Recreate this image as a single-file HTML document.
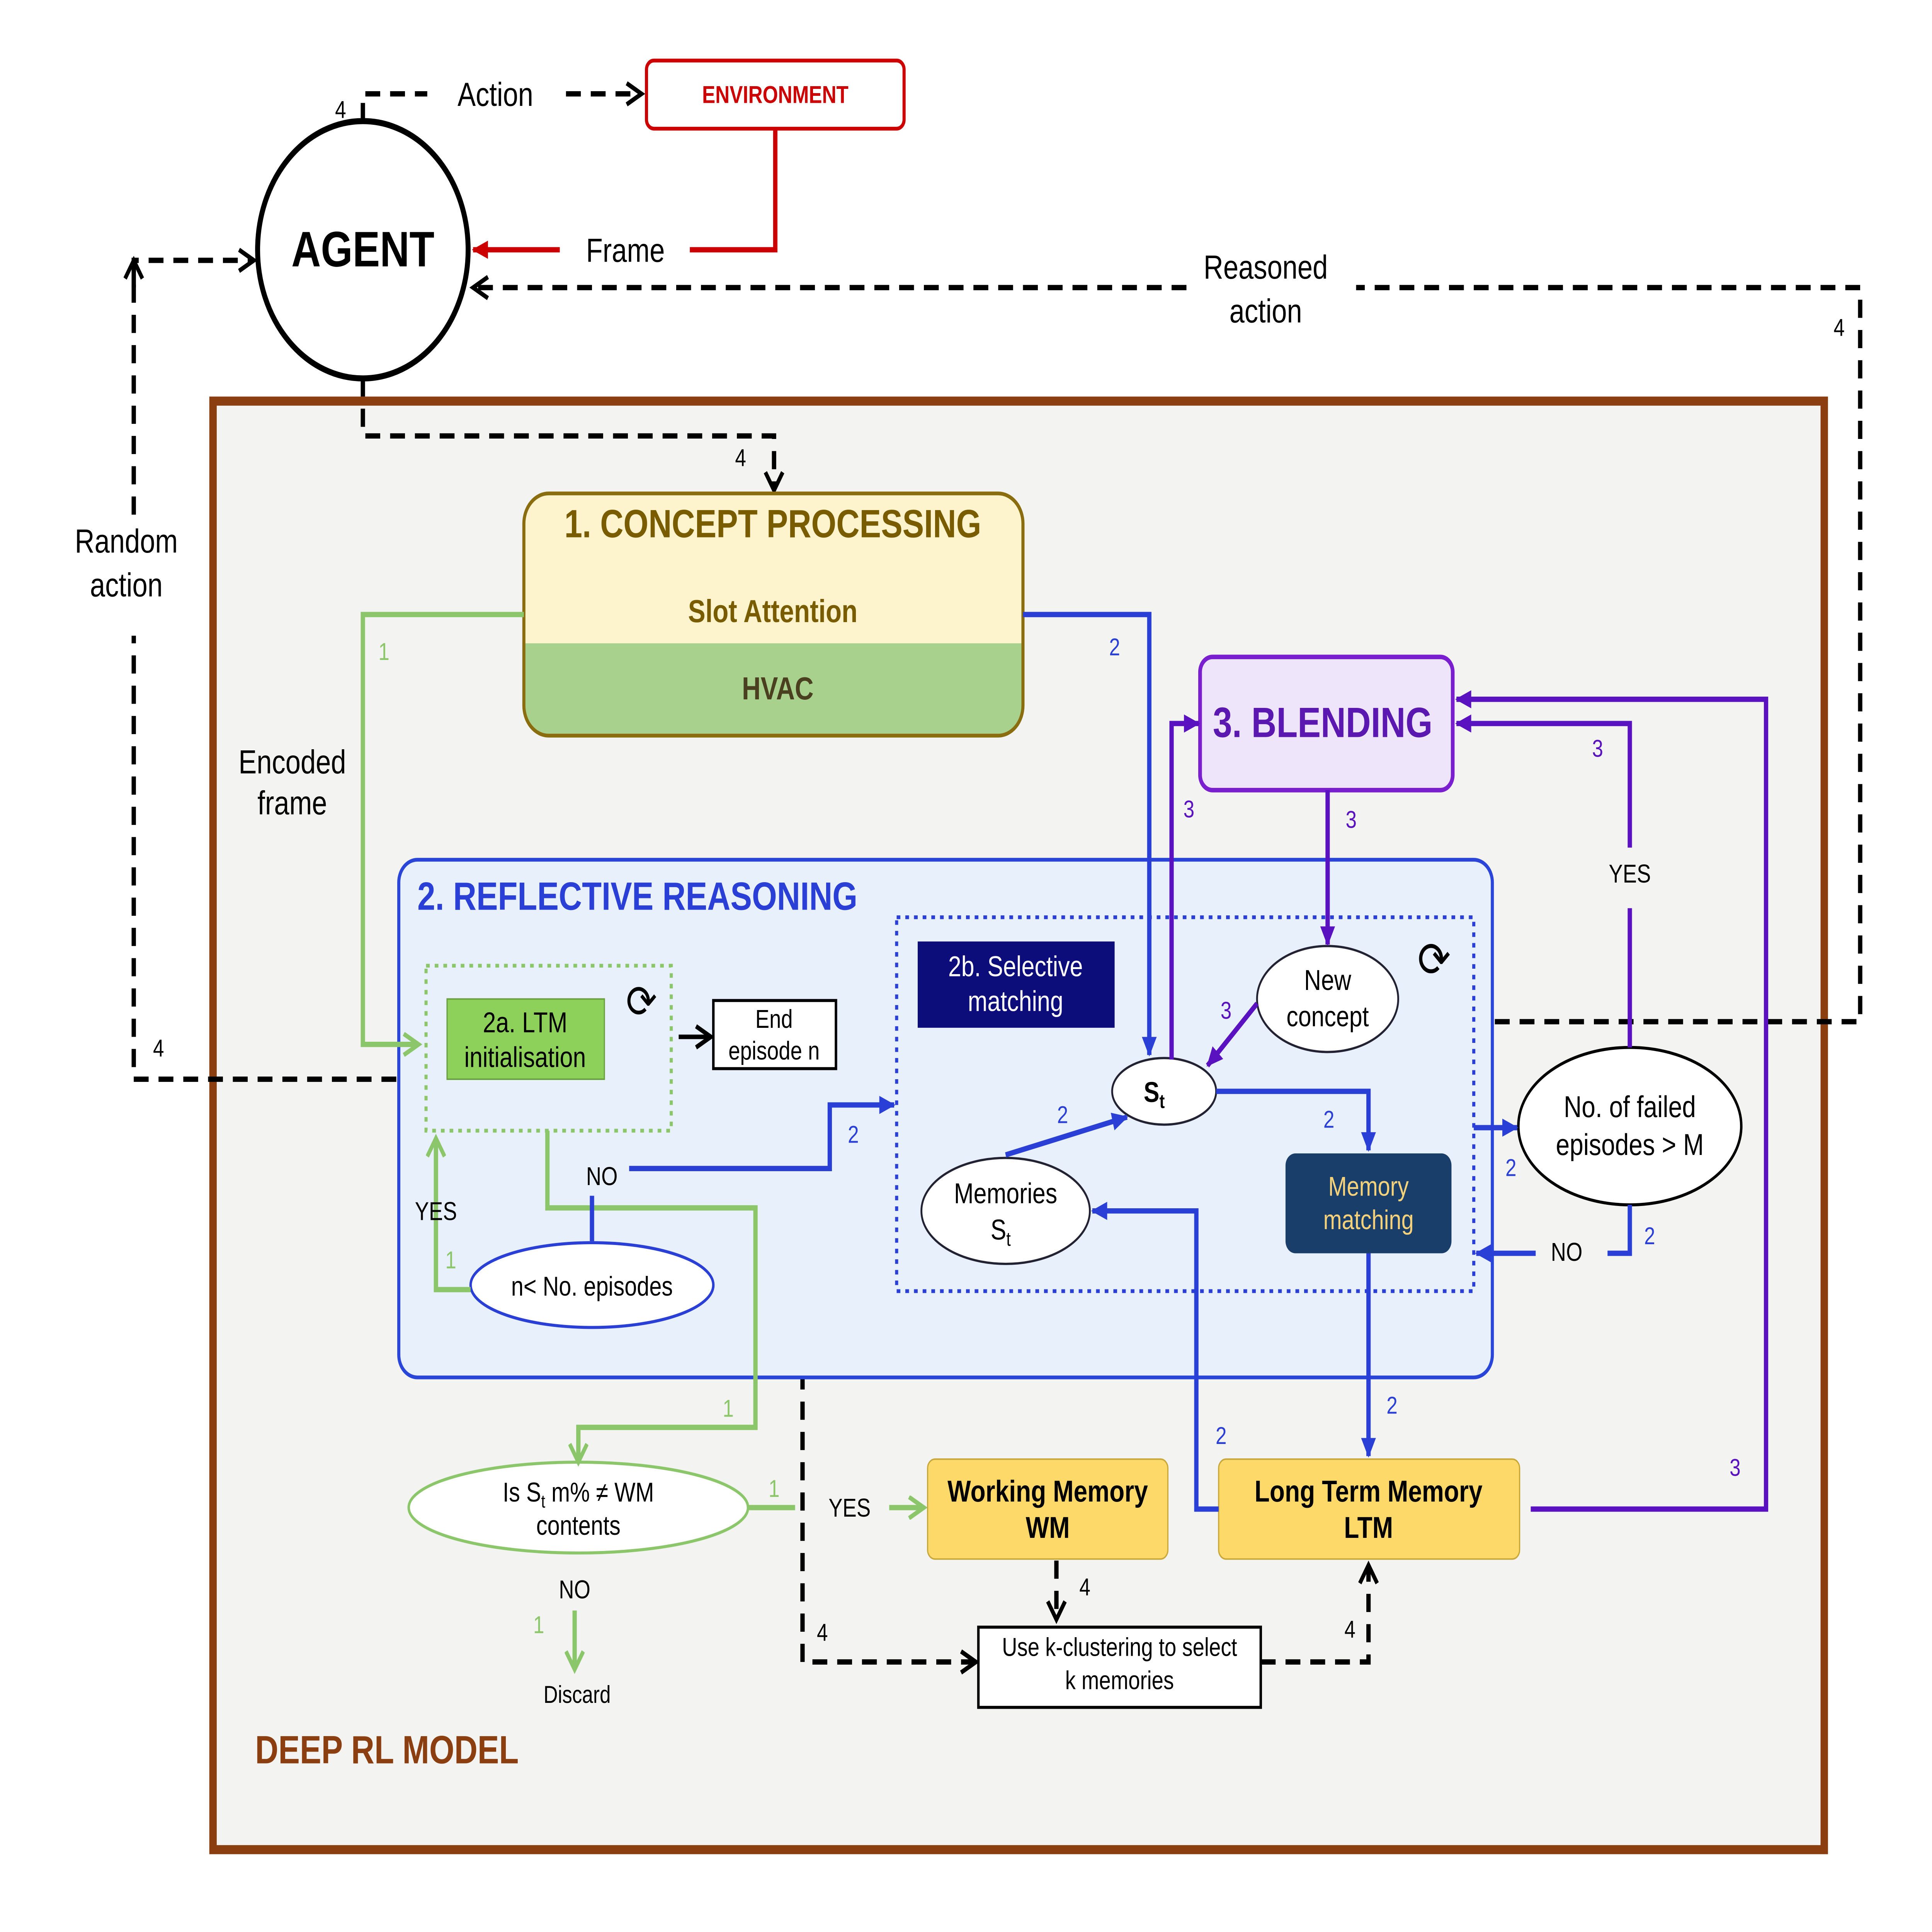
<!DOCTYPE html>
<html><head><meta charset="utf-8"><style>
html,body{margin:0;padding:0;background:#fff;width:100%;height:100%;overflow:hidden;}
svg{display:block;position:fixed;left:0;top:0;width:100vw;height:100vh;}
text{font-family:"Liberation Sans",sans-serif;}
</style></head><body>
<svg viewBox="0 0 1560 1276.4" preserveAspectRatio="none" xmlns="http://www.w3.org/2000/svg">
<defs>
<marker id="ab" markerWidth="14" markerHeight="14" refX="12" refY="7" orient="auto" markerUnits="userSpaceOnUse"><path d="M0,1 L13,7 L0,13 z" fill="#2a3fd6"/></marker>
<marker id="ap" markerWidth="14" markerHeight="14" refX="12" refY="7" orient="auto" markerUnits="userSpaceOnUse"><path d="M0,1 L13,7 L0,13 z" fill="#5a12c0"/></marker>
<marker id="ag" markerWidth="16" markerHeight="16" refX="13" refY="8" orient="auto" markerUnits="userSpaceOnUse"><path d="M1,1 L13,8 L1,15" fill="none" stroke="#8cc66a" stroke-width="3"/></marker>
<marker id="ar" markerWidth="14" markerHeight="14" refX="12" refY="7" orient="auto" markerUnits="userSpaceOnUse"><path d="M0,1 L13,7 L0,13 z" fill="#cc0000"/></marker>
<marker id="ad" markerWidth="18" markerHeight="18" refX="14" refY="9" orient="auto" markerUnits="userSpaceOnUse"><path d="M2,2 L14,9 L2,16" fill="none" stroke="#000" stroke-width="3"/></marker>
</defs>
<rect width="1560" height="1277" fill="#fff"/>
<rect x="172" y="265" width="1301" height="957" fill="#f3f3f1" stroke="#8b3e10" stroke-width="6"/>
<text x="206" y="1165" font-size="26" font-weight="bold" fill="#8b3e10">DEEP RL MODEL</text>

<circle cx="293" cy="165" r="85" fill="#fff" stroke="#000" stroke-width="4"/>
<text x="293" y="176" font-size="33" font-weight="bold" text-anchor="middle">AGENT</text>
<rect x="522" y="40" width="208" height="45" rx="6" fill="#fff" stroke="#cc0000" stroke-width="2.5"/>
<text x="626" y="68" font-size="16" font-weight="bold" fill="#cc0000" text-anchor="middle">ENVIRONMENT</text>
<polyline points="626,85 626,165 557,165" fill="none" stroke="#cc0000" stroke-width="3.5"/>
<line x1="452" y1="165" x2="382" y2="165" stroke="#cc0000" stroke-width="3.5" marker-end="url(#ar)"/>
<text x="505" y="173" font-size="22" text-anchor="middle">Frame</text>

<g fill="none" stroke="#000" stroke-width="3.5" stroke-dasharray="12,8">
<polyline points="293,80 293,62 345,62"/>
<line x1="457" y1="62" x2="518" y2="62" marker-end="url(#ad)"/>
<polyline points="1207,675 1502,675 1502,190 1095,190"/>
<line x1="958" y1="190" x2="382" y2="190" marker-end="url(#ad)"/>
<polyline points="320,713 108,713 108,420"/>
<polyline points="108,340 108,172 205,172" marker-end="url(#ad)"/>
<polyline points="293,250 293,288 625,288 625,324" marker-end="url(#ad)"/>
<polyline points="626,706 626,849 582,849" marker-end="url(#ad)"/>
<polyline points="648,706 648,1098 788,1098" marker-end="url(#ad)"/>
<line x1="853" y1="1031" x2="853" y2="1070" marker-end="url(#ad)"/>
<polyline points="1018,1098 1105,1098 1105,1034" marker-end="url(#ad)"/>
</g>
<line x1="108" y1="190" x2="108" y2="172" stroke="#000" stroke-width="3.5" marker-end="url(#ad)"/>
<text x="400" y="70" font-size="22" text-anchor="middle">Action</text>
<text x="275" y="78" font-size="16" text-anchor="middle">4</text>
<text x="1022" y="184" font-size="22" text-anchor="middle">Reasoned</text>
<text x="1022" y="213" font-size="22" text-anchor="middle">action</text>
<text x="1485" y="222" font-size="16" text-anchor="middle">4</text>
<text x="102" y="365" font-size="22" text-anchor="middle">Random</text>
<text x="102" y="394" font-size="22" text-anchor="middle">action</text>
<text x="128" y="698" font-size="16" text-anchor="middle">4</text>
<text x="598" y="308" font-size="16" text-anchor="middle">4</text>
<text x="636" y="849" font-size="16" text-anchor="middle">1</text>
<text x="664" y="1084" font-size="16" text-anchor="middle">4</text>
<text x="876" y="1054" font-size="16" text-anchor="middle">4</text>
<text x="1090" y="1082" font-size="16" text-anchor="middle">4</text>

<path d="M443,326 H806 Q826,326 826,346 V425 H423 V346 Q423,326 443,326 Z" fill="#fdf3cc"/>
<path d="M423,425 H826 V466 Q826,486 806,486 H443 Q423,486 423,466 Z" fill="#a9d18e"/>
<rect x="423" y="326" width="403" height="160" rx="20" fill="none" stroke="#8a6d0f" stroke-width="2.5"/>
<text x="624" y="355" font-size="26" font-weight="bold" fill="#7a5c00" text-anchor="middle">1.  CONCEPT PROCESSING</text>
<text x="624" y="411" font-size="21" font-weight="bold" fill="#7a5c00" text-anchor="middle">Slot Attention</text>
<text x="628" y="462" font-size="21" font-weight="bold" fill="#4a4020" text-anchor="middle">HVAC</text>
<text x="236" y="511" font-size="22" text-anchor="middle">Encoded</text>
<text x="236" y="538" font-size="22" text-anchor="middle">frame</text>

<rect x="969" y="434" width="204" height="88" rx="10" fill="#efe5fb" stroke="#7a1fd0" stroke-width="3"/>
<text x="1068" y="487" font-size="28" font-weight="bold" fill="#5a18b0" text-anchor="middle">3. BLENDING</text>

<rect x="322" y="568" width="883" height="342" rx="15" fill="#e8f0fb" stroke="#2a46d8" stroke-width="2.5"/>
<text x="337" y="601" font-size="26" font-weight="bold" fill="#2a3fd6">2. REFLECTIVE REASONING</text>
<rect x="344" y="638" width="198" height="109" fill="none" stroke="#8cc66a" stroke-width="2.5" stroke-dasharray="3,4"/>
<rect x="361" y="660" width="127" height="53" fill="#8dd05a" stroke="#6aa040" stroke-width="1"/>
<text x="424" y="682" font-size="19" text-anchor="middle">2a. LTM</text>
<text x="424" y="705" font-size="19" text-anchor="middle">initialisation</text>
<text x="518" y="672" font-size="30" text-anchor="middle">⟳</text>
<rect x="576" y="661" width="99" height="45" fill="#fff" stroke="#000" stroke-width="2"/>
<text x="625" y="679" font-size="17" text-anchor="middle">End</text>
<text x="625" y="700" font-size="17" text-anchor="middle">episode n</text>
<line x1="548" y1="685" x2="574" y2="685" stroke="#000" stroke-width="3" marker-end="url(#ad)"/>

<rect x="724" y="606" width="466" height="247" fill="none" stroke="#2a3fd6" stroke-width="2.5" stroke-dasharray="3,4"/>
<rect x="741" y="622" width="159" height="57" fill="#0c0c7a"/>
<text x="820" y="645" font-size="19" fill="#fff" text-anchor="middle">2b. Selective</text>
<text x="820" y="668" font-size="19" fill="#fff" text-anchor="middle">matching</text>
<text x="1158" y="645" font-size="32" text-anchor="middle">⟳</text>
<ellipse cx="1072" cy="660" rx="57" ry="35" fill="#fff" stroke="#223" stroke-width="1.5"/>
<text x="1072" y="654" font-size="19" text-anchor="middle">New</text>
<text x="1072" y="678" font-size="19" text-anchor="middle">concept</text>
<ellipse cx="940" cy="721" rx="42" ry="22" fill="#fff" stroke="#223" stroke-width="1.5"/>
<text x="932" y="728" font-size="19" font-weight="bold" text-anchor="middle">S<tspan font-size="13" dy="4">t</tspan></text>
<ellipse cx="812" cy="800" rx="68" ry="35" fill="#fff" stroke="#223" stroke-width="1.5"/>
<text x="812" y="795" font-size="19" text-anchor="middle">Memories</text>
<text x="808" y="819" font-size="19" text-anchor="middle">S<tspan font-size="13" dy="4">t</tspan></text>
<rect x="1038" y="762" width="134" height="66" rx="8" fill="#1a3e6a"/>
<text x="1105" y="790" font-size="18" fill="#f5d27a" text-anchor="middle">Memory</text>
<text x="1105" y="812" font-size="18" fill="#f5d27a" text-anchor="middle">matching</text>
<ellipse cx="478" cy="849" rx="98" ry="28" fill="#fff" stroke="#2a3fd6" stroke-width="2"/>
<text x="478" y="856" font-size="18" text-anchor="middle">n&lt; No. episodes</text>

<ellipse cx="1316" cy="744" rx="90" ry="52" fill="#fff" stroke="#000" stroke-width="2"/>
<text x="1316" y="738" font-size="20" text-anchor="middle">No. of failed</text>
<text x="1316" y="763" font-size="20" text-anchor="middle">episodes &gt; M</text>

<ellipse cx="467" cy="996" rx="137" ry="30" fill="#fff" stroke="#8cc66a" stroke-width="2"/>
<text x="467" y="992" font-size="18" text-anchor="middle">Is S<tspan font-size="12" dy="4">t</tspan><tspan dy="-4"> m% ≠ WM</tspan></text>
<text x="467" y="1014" font-size="18" text-anchor="middle">contents</text>
<rect x="749" y="964" width="194" height="66" rx="6" fill="#fdd96a" stroke="#c9a83a" stroke-width="1"/>
<text x="846" y="992" font-size="20" font-weight="bold" text-anchor="middle">Working Memory</text>
<text x="846" y="1016" font-size="20" font-weight="bold" text-anchor="middle">WM</text>
<rect x="984" y="964" width="243" height="66" rx="6" fill="#fdd96a" stroke="#c9a83a" stroke-width="1"/>
<text x="1105" y="992" font-size="20" font-weight="bold" text-anchor="middle">Long Term Memory</text>
<text x="1105" y="1016" font-size="20" font-weight="bold" text-anchor="middle">LTM</text>
<rect x="790" y="1075" width="228" height="53" fill="#fff" stroke="#000" stroke-width="2"/>
<text x="904" y="1094" font-size="17" text-anchor="middle">Use k-clustering to select</text>
<text x="904" y="1116" font-size="17" text-anchor="middle">k memories</text>
<text x="466" y="1125" font-size="16" text-anchor="middle">Discard</text>

<g fill="none" stroke="#8cc66a" stroke-width="3.5">
<polyline points="423,406 293,406 293,690 338,690" marker-end="url(#ag)"/>
<polyline points="442,747 442,798 610,798 610,943 467,943 467,966" marker-end="url(#ag)"/>
<polyline points="380,852 352,852 352,752" marker-end="url(#ag)"/>
<line x1="604" y1="996" x2="642" y2="996"/>
<line x1="718" y1="996" x2="746" y2="996" marker-end="url(#ag)"/>
<line x1="464" y1="1064" x2="464" y2="1103" marker-end="url(#ag)"/>
</g>
<g font-size="16" fill="#8cc66a" text-anchor="middle">
<text x="310" y="436">1</text><text x="588" y="936">1</text><text x="364" y="838">1</text>
<text x="625" y="989">1</text><text x="435" y="1079">1</text></g>
<text x="352" y="806" font-size="17" text-anchor="middle">YES</text>
<text x="686" y="1002" font-size="17" text-anchor="middle">YES</text>
<text x="464" y="1056" font-size="17" text-anchor="middle">NO</text>

<g fill="none" stroke="#2a3fd6" stroke-width="3.5">
<polyline points="826,406 928,406 928,697" marker-end="url(#ab)"/>
<line x1="478" y1="820" x2="478" y2="790"/>
<polyline points="508,772 670,772 670,730 722,730" marker-end="url(#ab)"/>
<polyline points="982,721 1105,721 1105,760" marker-end="url(#ab)"/>
<line x1="812" y1="763" x2="910" y2="738" marker-end="url(#ab)"/>
<line x1="1105" y1="828" x2="1105" y2="962" marker-end="url(#ab)"/>
<polyline points="984,997 966,997 966,800 882,800" marker-end="url(#ab)"/>
<line x1="1190" y1="745" x2="1225" y2="745" marker-end="url(#ab)"/>
<polyline points="1316,796 1316,828 1298,828"/>
<line x1="1240" y1="828" x2="1192" y2="828" marker-end="url(#ab)"/>
</g>
<g font-size="16" fill="#2a3fd6" text-anchor="middle">
<text x="900" y="433">2</text><text x="689" y="755">2</text><text x="1073" y="745">2</text>
<text x="858" y="742">2</text><text x="1124" y="934">2</text><text x="986" y="954">2</text>
<text x="1220" y="777">2</text><text x="1332" y="822">2</text></g>
<text x="486" y="783" font-size="17" text-anchor="middle">NO</text>
<text x="1265" y="833" font-size="17" text-anchor="middle">NO</text>

<g fill="none" stroke="#5a12c0" stroke-width="3.5">
<line x1="1072" y1="522" x2="1072" y2="624" marker-end="url(#ap)"/>
<line x1="1015" y1="663" x2="975" y2="704" marker-end="url(#ap)"/>
<polyline points="946,700 946,478 968,478" marker-end="url(#ap)"/>
<polyline points="1316,692 1316,600"/>
<polyline points="1316,560 1316,478 1176,478" marker-end="url(#ap)"/>
<polyline points="1236,997 1426,997 1426,462 1176,462" marker-end="url(#ap)"/>
</g>
<g font-size="16" fill="#5a12c0" text-anchor="middle">
<text x="1091" y="547">3</text><text x="990" y="673">3</text><text x="960" y="540">3</text>
<text x="1290" y="500">3</text><text x="1401" y="975">3</text></g>
<text x="1316" y="583" font-size="17" text-anchor="middle">YES</text>
</svg>
</body></html>
